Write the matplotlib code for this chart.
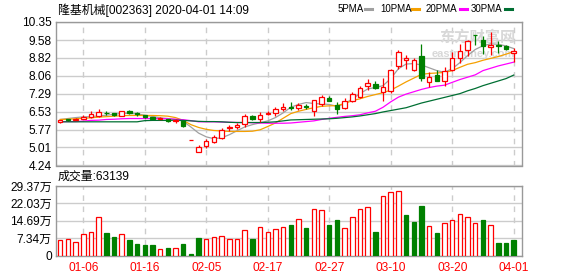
import matplotlib
matplotlib.use('Agg')
import matplotlib.pyplot as plt
import numpy as np

plt.rcParams['font.family'] = ['Liberation Sans', 'Noto Sans CJK SC', 'DejaVu Sans']

# K线数据 (2019-12-31 ~ 2020-04-01)
opens = [6.08, 6.20, 6.19, 6.22, 6.30, 6.34, 6.49, 6.46, 6.36, 6.58,
         6.46, 6.37, 6.30, 6.22, 6.22, 6.14, 6.14, 5.33, 4.82, 5.08,
         5.25, 5.40, 5.83, 5.86, 6.02, 6.36, 6.24, 6.42, 6.46, 6.65,
         6.73, 6.67, 6.76, 6.57, 6.85, 7.10, 6.81, 6.67, 7.00, 7.17,
         7.61, 7.72, 7.36, 7.42, 8.46, 8.72, 8.32, 8.90, 7.78, 8.09,
         7.85, 8.32, 8.80, 9.17, 9.80, 9.57, 9.30, 9.38, 9.32, 9.02]
highs = [6.19, 6.24, 6.26, 6.38, 6.55, 6.66, 6.57, 6.48, 6.58, 6.61,
         6.50, 6.39, 6.31, 6.30, 6.24, 6.20, 6.15, 5.33, 5.10, 5.36,
         5.53, 5.85, 5.96, 6.04, 6.43, 6.38, 6.53, 6.56, 6.74, 6.92,
         6.93, 6.91, 6.86, 7.03, 7.24, 7.21, 6.93, 7.12, 7.35, 7.63,
         7.92, 7.85, 7.96, 8.34, 9.17, 8.96, 8.80, 9.42, 8.23, 8.31,
         8.42, 9.06, 9.42, 9.59, 9.81, 9.77, 9.94, 9.56, 9.38, 9.23]
lows = [6.05, 6.13, 6.17, 6.20, 6.28, 6.32, 6.40, 6.33, 6.34, 6.45,
        6.34, 6.28, 6.20, 6.20, 6.10, 6.03, 5.88, 5.33, 4.80, 4.99,
        5.19, 5.36, 5.73, 5.79, 5.90, 6.18, 6.10, 6.38, 6.36, 6.58,
        6.62, 6.62, 6.63, 6.33, 6.78, 6.99, 6.43, 6.63, 6.93, 7.12,
        7.47, 7.50, 6.97, 7.33, 8.35, 8.35, 8.26, 7.85, 7.59, 7.84,
        7.61, 8.28, 8.60, 8.92, 9.38, 8.99, 8.95, 9.05, 9.14, 8.66]
closes = [6.16, 6.18, 6.24, 6.31, 6.45, 6.53, 6.47, 6.37, 6.56, 6.48,
          6.43, 6.30, 6.23, 6.27, 6.12, 6.18, 5.92, 5.33, 5.04, 5.28,
          5.45, 5.76, 5.89, 5.96, 6.33, 6.21, 6.38, 6.48, 6.64, 6.71,
          6.70, 6.81, 6.71, 7.02, 7.14, 7.00, 6.64, 7.00, 7.28, 7.52,
          7.74, 7.54, 7.58, 8.31, 9.06, 8.80, 8.72, 7.95, 8.02, 7.85,
          8.26, 8.80, 9.10, 9.53, 9.78, 9.34, 9.38, 9.32, 9.20, 9.13]

# 均线
ma5 = [6.20, 6.24, 6.28, 6.31, 6.32, 6.35, 6.38, 6.42, 6.46, 6.46,
       6.44, 6.38, 6.33, 6.27, 6.24, 6.20, 6.12, 5.88, 5.62, 5.46,
       5.38, 5.42, 5.55, 5.72, 5.88, 5.98, 6.06, 6.14, 6.28, 6.48,
       6.72, 6.84, 6.92, 6.88, 6.86, 6.84, 6.76, 6.86, 7.08, 7.30,
       7.50, 7.56, 7.64, 7.94, 8.36, 8.56, 8.58, 8.52, 8.40, 8.28,
       8.21, 8.36, 8.62, 8.92, 9.18, 9.34, 9.42, 9.40, 9.33, 9.22]
ma10 = [6.20, 6.21, 6.23, 6.25, 6.27, 6.30, 6.32, 6.34, 6.36, 6.37,
        6.37, 6.37, 6.37, 6.36, 6.34, 6.28, 6.16, 5.98, 5.86, 5.78,
        5.73, 5.71, 5.69, 5.69, 5.69, 5.70, 5.76, 5.90, 6.05, 6.25,
        6.45, 6.55, 6.63, 6.70, 6.76, 6.78, 6.79, 6.88, 7.00, 7.08,
        7.18, 7.26, 7.34, 7.45, 7.62, 7.80, 7.96, 8.12, 8.16, 8.18,
        8.20, 8.28, 8.42, 8.55, 8.62, 8.72, 8.80, 8.88, 8.98, 9.09]
ma20 = [6.10, 6.11, 6.11, 6.13, 6.16, 6.17, 6.20, 6.21, 6.23, 6.24,
        6.24, 6.24, 6.24, 6.24, 6.23, 6.21, 6.19, 6.15, 6.10, 6.10,
        6.10, 6.09, 6.08, 6.07, 6.07, 6.06, 6.05, 6.04, 6.04, 6.04,
        6.05, 6.08, 6.11, 6.14, 6.20, 6.25, 6.29, 6.33, 6.36, 6.40,
        6.48, 6.55, 6.72, 6.95, 7.15, 7.28, 7.38, 7.48, 7.56, 7.62,
        7.66, 7.78, 7.90, 8.00, 8.10, 8.28, 8.38, 8.48, 8.56, 8.64]
ma30 = [6.10, 6.10, 6.10, 6.10, 6.10, 6.10, 6.10, 6.10, 6.10, 6.10,
        6.10, 6.15, 6.16, 6.16, 6.16, 6.17, 6.16, 6.14, 6.12, 6.11,
        6.11, 6.10, 6.08, 6.07, 6.07, 6.07, 6.07, 6.08, 6.10, 6.14,
        6.18, 6.19, 6.20, 6.21, 6.22, 6.23, 6.25, 6.28, 6.31, 6.35,
        6.40, 6.45, 6.52, 6.58, 6.64, 6.70, 6.80, 6.90, 6.98, 7.06,
        7.14, 7.22, 7.30, 7.42, 7.52, 7.64, 7.74, 7.84, 7.94, 8.09]

# 成交量 (万)
volumes = [6.5, 6.9, 5.6, 9.0, 9.9, 16.3, 9.6, 7.9, 9.0, 6.6,
           4.9, 4.5, 4.5, 2.6, 3.2, 3.1, 4.9, 0.6, 7.5, 6.9,
           7.8, 8.2, 6.9, 6.9, 10.8, 7.0, 12.0, 9.9, 11.3, 12.0,
           13.0, 15.4, 11.7, 19.7, 19.3, 13.0, 15.1, 11.6, 16.3, 19.7,
           20.6, 10.0, 25.3, 27.0, 27.4, 17.3, 14.3, 21.1, 12.5, 9.6,
           13.7, 15.0, 17.6, 16.3, 13.7, 15.1, 12.9, 5.3, 5.3, 6.6]

tick_idx = [3, 11, 19, 27, 35, 43, 51, 59]
tick_labels = ['01-06', '01-16', '02-05', '02-17', '02-27', '03-10', '03-20', '04-01']
price_ticks = [4.24, 5.01, 5.77, 6.53, 7.29, 8.06, 8.82, 9.58, 10.35]
vol_ticks = [0, 7.34, 14.69, 22.03, 29.37]
vol_tick_labels = ['0', '7.34万', '14.69万', '22.03万', '29.37万']

RED = '#ff0000'
GREEN = '#008000'
ma_colors = ['#a0a0a0', '#f5a000', '#ff00ff', '#006f33']
ma_names = ['5PMA', '10PMA', '20PMA', '30PMA']

W, H = 578, 276
fig = plt.figure(figsize=(W / 100, H / 100), dpi=100)
ax = fig.add_axes([56 / W, 1 - 165.5 / H, 466 / W, 143.5 / H])
axv = fig.add_axes([56 / W, 1 - 255.5 / H, 466 / W, 69.5 / H])

x = np.arange(len(closes))
o = np.array(opens); c = np.array(closes)
up = c >= o
body_w = 0.58

# 均线
for m, col in zip([ma5, ma10, ma20, ma30], ma_colors):
    ax.plot(x, m, color=col, lw=0.9, zorder=2)

# K线
ax.vlines(x[up], np.array(lows)[up], np.array(highs)[up], color=RED, lw=0.9, zorder=3)
ax.vlines(x[~up], np.array(lows)[~up], np.array(highs)[~up], color=GREEN, lw=0.9, zorder=3)
bh = np.maximum(np.abs(c - o), 0.015)
bb = np.minimum(o, c)
ax.bar(x[up], bh[up], bottom=bb[up], width=body_w, facecolor='white',
       edgecolor=RED, linewidth=0.9, zorder=4)
ax.bar(x[~up], bh[~up], bottom=bb[~up], width=body_w, facecolor=GREEN,
       edgecolor=GREEN, linewidth=0.9, zorder=4)

ax.set_xlim(-0.55, 60.08)
ax.set_ylim(4.24, 10.35)
ax.set_yticks(price_ticks)
ax.set_yticklabels(['%.2f' % v for v in price_ticks])
ax.set_xticks(tick_idx)
ax.set_xticklabels([])

# 成交量
prev = np.r_[c[0], c[:-1]]
vup = c >= prev
vol = np.array(volumes)
axv.bar(x[vup], vol[vup], width=body_w, facecolor='white', edgecolor=RED, linewidth=0.9, zorder=3)
axv.bar(x[~vup], vol[~vup], width=body_w, facecolor=GREEN, edgecolor=GREEN, linewidth=0.9, zorder=3)
axv.set_xlim(-0.55, 60.08)
axv.set_ylim(0, 29.37)
axv.set_yticks(vol_ticks)
axv.set_yticklabels(vol_tick_labels)
axv.set_xticks(tick_idx)
axv.set_xticklabels(tick_labels, color=RED)

for a in (ax, axv):
    a.grid(axis='y', color='#cccccc', lw=1.0, zorder=0)
    a.grid(axis='x', color='#cccccc', lw=1.0, linestyle=(0, (4, 4)), zorder=0)
    a.set_axisbelow(True)
    for s in a.spines.values():
        s.set_color('#999999')
        s.set_linewidth(1.0)
    a.tick_params(length=0, labelsize=8.6, pad=3)

axv.tick_params(axis='x', pad=5)

# 标题与图例
fig.text(58 / W, 1 - 10 / H, '隆基机械[002363] 2020-04-01 14:09', fontsize=8.6,
         va='center', ha='left')
fig.text(58 / W, 1 - 177 / H, '成交量:63139', fontsize=8.6, va='center', ha='left')

leg_x = [338, 380, 426, 471]
dash_x = [365, 412, 460, 505]
for name, col, lx, dx in zip(ma_names, ma_colors, leg_x, dash_x):
    fig.text(lx / W, 1 - 9 / H, name, fontsize=7, va='center', ha='left')
    fig.add_artist(plt.Line2D([dx / W, (dx + 7) / W], [1 - 9 / H, 1 - 9 / H],
                              color=col, lw=2.2))

# 水印
ax.text(0.985, 0.9, '东方财富网', transform=ax.transAxes, ha='right', va='center',
        fontsize=11, color='#d8d8d8', fontweight='bold', family='Noto Sans CJK SC', zorder=1)
ax.text(0.985, 0.775, 'eastmoney.com', transform=ax.transAxes, ha='right', va='center',
        fontsize=8, color='#d8d8d8', fontweight='bold', zorder=1)

fig.savefig('out.png', dpi=100)
